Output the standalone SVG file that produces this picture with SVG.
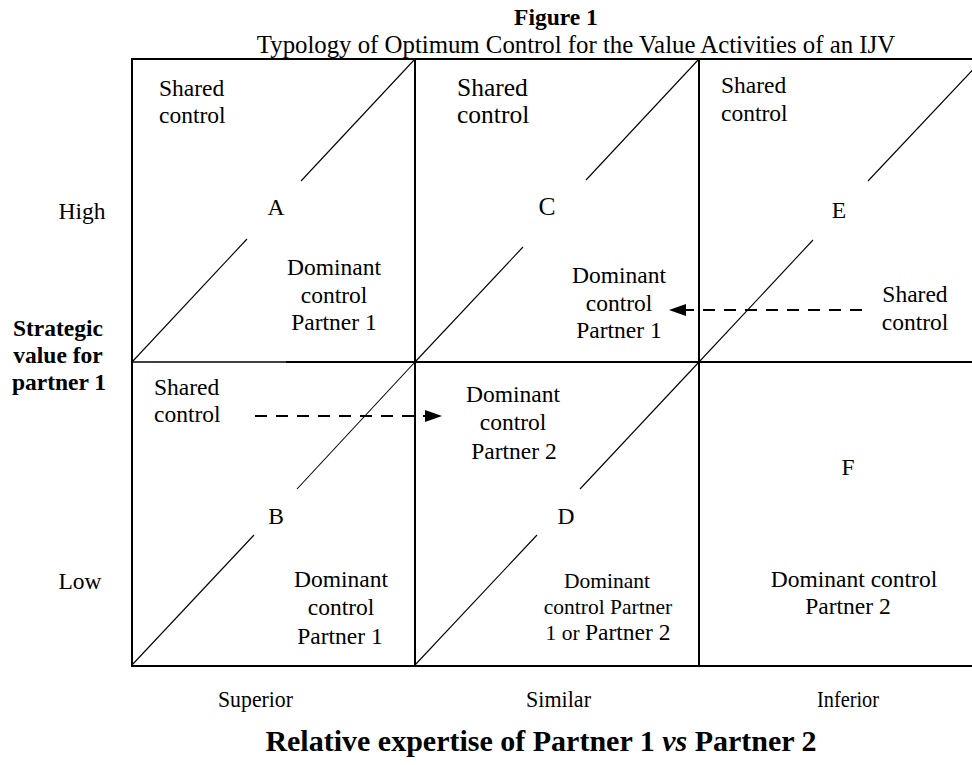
<svg xmlns="http://www.w3.org/2000/svg" width="972" height="765" viewBox="0 0 972 765">
<defs>
<style>
text{font-family:"Liberation Serif","Times New Roman",serif;font-size:23.5px;fill:#000}
.b{font-weight:bold}
.m{text-anchor:middle}
.big{font-size:25.5px}
.sm{font-size:21.5px}
.ttl{font-size:24.8px}
.xl{font-size:30px}
.it{font-style:italic}
.nm{font-size:23.5px}
.grid{stroke:#000;stroke-width:2;fill:none}
.diag{stroke:#000;stroke-width:1.1;fill:none}
.dash{stroke:#000;stroke-width:2.2;stroke-dasharray:12 9;fill:none}
</style>
<marker id="ah" markerUnits="userSpaceOnUse" markerWidth="17" markerHeight="12" refX="0" refY="6" orient="auto">
<path d="M0,0 L17,6 L0,12 Z" fill="#000"/>
</marker>
</defs>
<rect width="972" height="765" fill="#fff"/>
<g id="title">
<text class="b m" x="556" y="25">Figure 1</text>
<text class="m ttl" x="576" y="53">Typology of Optimum Control for the Value Activities of an IJV</text>
</g>
<g id="grid">
<line class="grid" x1="132" y1="59" x2="985" y2="59"/>
<line class="grid" x1="132" y1="666" x2="985" y2="666"/>
<line class="grid" x1="132" y1="58" x2="132" y2="667"/>
<line class="grid" x1="415" y1="58" x2="415" y2="667"/>
<line class="grid" x1="699" y1="58" x2="699" y2="667"/>
<line stroke="#000" stroke-width="1.3" x1="132" y1="362" x2="287" y2="362"/>
<line class="grid" x1="286" y1="362" x2="985" y2="362"/>
</g>
<g id="axis-y">
<text class="m" x="82" y="219">High</text>
<text class="m" x="80" y="589">Low</text>
<text class="b m" x="58" y="336">Strategic</text>
<text class="b m" x="58" y="363">value for</text>
<text class="b m" x="59" y="390">partner 1</text>
</g>
<g id="axis-x">
<text x="218" y="707" textLength="75" lengthAdjust="spacingAndGlyphs">Superior</text>
<text x="526" y="707" textLength="65" lengthAdjust="spacingAndGlyphs">Similar</text>
<text x="817" y="707" textLength="62" lengthAdjust="spacingAndGlyphs">Inferior</text>
<text class="b m xl" x="541" y="751">Relative expertise of Partner 1 <tspan class="it">vs</tspan> Partner 2</text>
</g>
<g id="cell-A">
<line class="diag" x1="132" y1="362" x2="247" y2="239"/>
<line class="diag" x1="301" y1="181" x2="415" y2="59"/>
<text x="159" y="96">Shared</text>
<text x="159" y="123">control</text>
<text class="m" x="276" y="215">A</text>
<text class="m" x="334" y="275">Dominant</text>
<text class="m" x="334" y="303">control</text>
<text class="m" x="334" y="330">Partner 1</text>
</g>
<g id="cell-C">
<line class="diag" x1="415" y1="362" x2="523" y2="247"/>
<line class="diag" x1="586" y1="180" x2="699" y2="59"/>
<text class="big" x="457" y="96">Shared</text>
<text class="big" x="457" y="123">control</text>
<text class="big m" x="547" y="215">C</text>
<text class="m" x="619" y="283">Dominant</text>
<text class="m" x="619" y="311">control</text>
<text class="m" x="619" y="338">Partner 1</text>
</g>
<g id="cell-E">
<line class="diag" x1="699" y1="362" x2="813" y2="240"/>
<line class="diag" x1="868" y1="181" x2="983" y2="59"/>
<text x="721" y="93">Shared</text>
<text x="721" y="121">control</text>
<text class="m" x="839" y="218">E</text>
<text class="m" x="915" y="302">Shared</text>
<text class="m" x="915" y="330">control</text>
</g>
<g id="cell-B">
<line class="diag" x1="132" y1="665" x2="254" y2="535"/>
<line class="diag" x1="297" y1="489" x2="415" y2="362"/>
<text x="154" y="395">Shared</text>
<text x="154" y="422">control</text>
<text class="m" x="276" y="524">B</text>
<text class="m" x="341" y="587">Dominant</text>
<text class="m" x="341" y="615">control</text>
<text class="m" x="340" y="644">Partner 1</text>
</g>
<g id="cell-D">
<line class="diag" x1="415" y1="665" x2="537" y2="535"/>
<line class="diag" x1="580" y1="489" x2="699" y2="362"/>
<text class="m" x="513" y="402">Dominant</text>
<text class="m" x="513" y="430">control</text>
<text class="m" x="514" y="459">Partner 2</text>
<text class="m" x="566" y="524">D</text>
<text class="sm m" x="607" y="588">Dominant</text>
<text class="sm m" x="608" y="614">control Partner</text>
<text class="sm m" x="608" y="640">1 or <tspan class="nm">Partner 2</tspan></text>
</g>
<g id="cell-F">
<text class="m" x="848" y="475">F</text>
<text class="m" x="854" y="587">Dominant control</text>
<text class="m" x="848" y="614">Partner 2</text>
</g>
<g id="connectors">
<line class="dash" x1="255" y1="416" x2="425" y2="416" marker-end="url(#ah)"/>
<line class="dash" x1="862" y1="310" x2="686" y2="310" marker-end="url(#ah)"/>
</g>
</svg>
